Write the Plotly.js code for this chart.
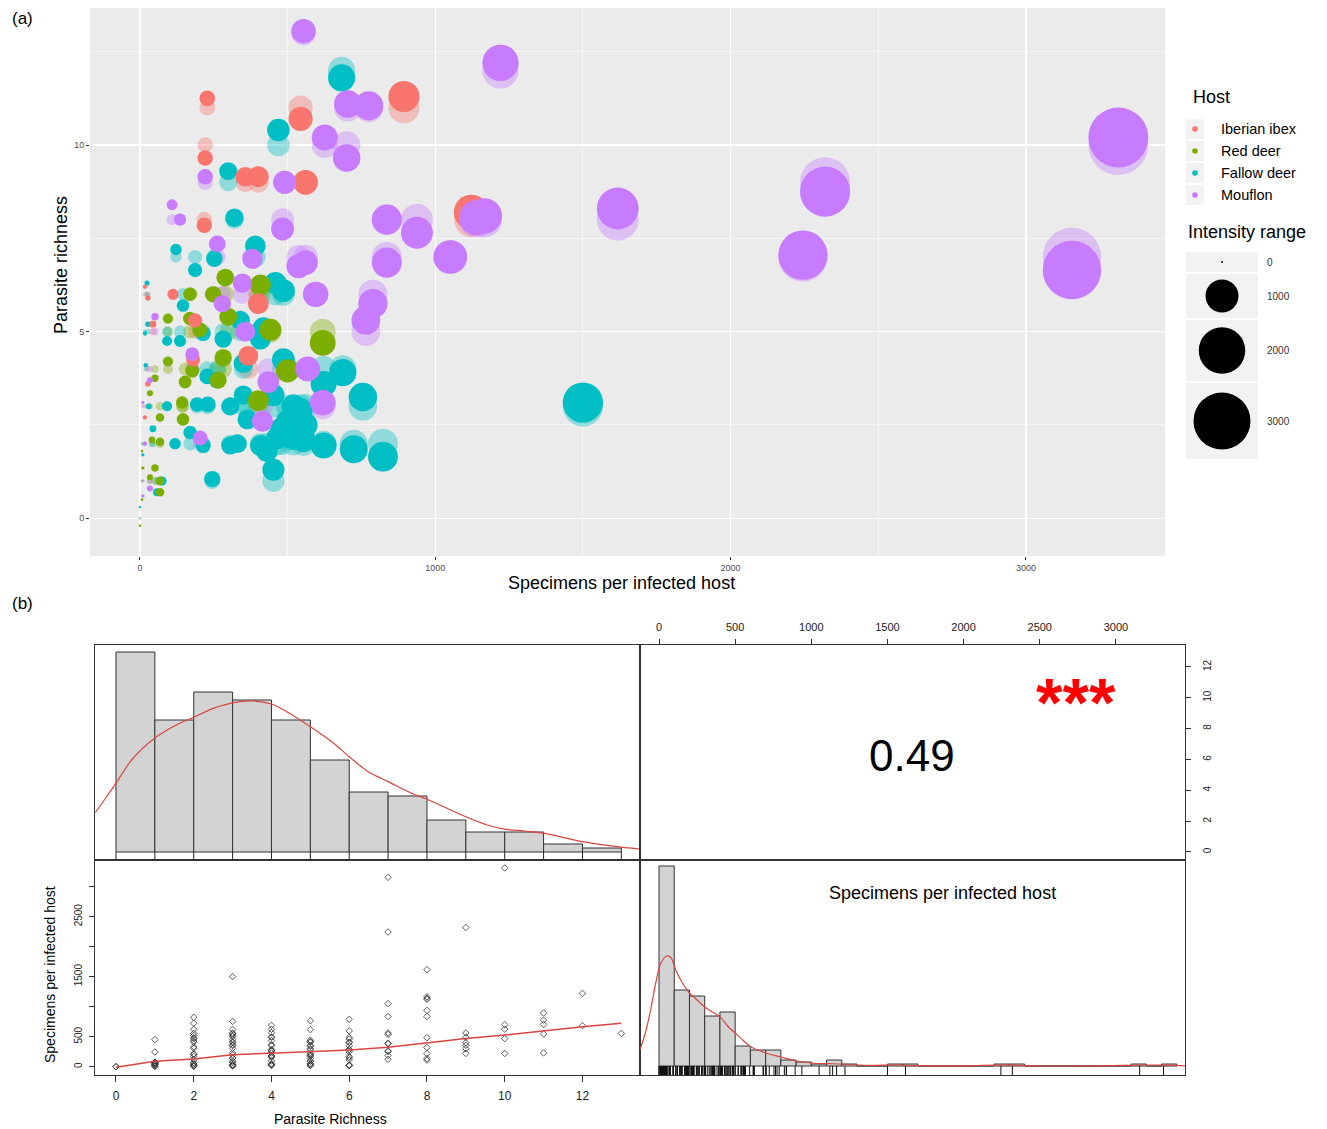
<!DOCTYPE html>
<html><head><meta charset="utf-8">
<script src="https://cdn.plot.ly/plotly-3.0.1.min.js"></script>
<style>html,body{margin:0;padding:0;background:#fff}#chart{width:1327px;height:1129px}</style>
</head><body><div id="chart"></div>
<script>
const W = 1327, H = 1129;

// ---------- Panel (a) data: specimens per infected host, parasite richness, plotted (jittered) richness ----------
const hostNames = ['Iberian ibex', 'Red deer', 'Fallow deer', 'Mouflon'];
const hostColors = ['#F8766D', '#7CAE00', '#00BFC4', '#C77CFF'];

const ibexSpecimens = [894,544,228,221,561,357,401,1122,218,112,401,367,180,27,17,27,17,187,44];
const ibexRichness  = [11,11,11,10,9,9,9,8,8,6,6,4,4,4,3,6,6,5,5];
const ibexJitter    = [11.3,10.7,11.25,9.65,9.0,9.15,9.15,8.2,7.85,6.0,5.75,4.35,4.25,3.6,2.7,5.9,6.2,5.3,5.2];

const redSpecimens = [619,289,408,248,170,299,95,442,282,95,177,265,153,51,401,143,146,34,68,41,68,51,10,34,68,7,7,500,203,169,68,0];
const redRichness  = [5,6,6,6,6,5,5,5,4,4,4,4,4,4,3,3,3,3,3,2,2,1,1,1,1,1,2,4,5,5,1,0];
const redJitter    = [4.7,6.45,6.25,6.0,6.0,5.4,5.35,5.05,4.3,4.2,3.95,3.7,3.65,3.75,3.15,3.1,2.65,3.35,2.7,2.1,2.05,1.35,1.35,1.1,0.7,0.5,1.8,3.95,5.05,5.35,1.0,-0.2];

const fallowSpecimens = [683,469,299,320,122,187,252,391,459,146,92,136,282,408,214,340,418,486,350,228,486,622,687,755,194,306,350,452,500,364,544,466,520,306,408,622,724,823,452,245,119,214,75,58,170,92,44,10,0,1500,554,24,17,27,30,20,520,480,430,560,230,330,262];
const fallowRichness  = [12,10,9,8,7,7,7,7,6,6,5,5,5,5,5,5,5,6,4,4,4,4,4,3,3,3,3,3,3,3,3,2,2,2,2,2,2,2,1,1,2,2,1,1,2,3,2,2,0,3,2,6,5,5,3,4,3,2,2,3,3,2,4];
const fallowJitter    = [11.8,10.4,9.3,8.05,7.2,6.65,6.95,7.3,6.3,5.7,4.75,4.75,4.8,4.8,4.95,5.3,5.1,6.1,4.15,3.8,4.25,3.6,3.9,3.25,3.05,3.0,3.3,3.3,2.6,2.65,2.9,2.15,2.15,1.95,1.95,1.95,1.85,1.65,1.3,1.05,2.0,1.95,1.0,0.7,2.3,3.0,2.4,1.7,0.3,3.1,2.1,6.3,4.95,5.2,3.0,4.1,3.0,2.4,1.8,2.5,3.05,2.0,3.7];

const mouflonSpecimens = [554,1221,3313,2320,1618,2245,3156,1166,1140,1051,938,836,836,789,765,595,775,704,626,700,490,221,109,136,483,537,561,262,381,347,279,51,357,435,415,568,619,34,177,204,34,10,17,10];
const mouflonRichness  = [13,12,10,9,8,7,7,8,8,7,8,8,7,6,5,6,11,11,10,10,9,9,8,8,8,7,7,7,7,6,6,5,5,4,3,4,3,4,4,2,1,3,2,1];
const mouflonJitter    = [13.05,12.2,10.2,8.75,8.3,7.05,6.65,8.1,8.05,7.0,7.65,8.0,6.85,5.75,5.3,6.0,11.05,11.1,10.2,9.65,9.0,9.15,8.4,8.0,7.75,6.75,6.85,7.35,6.95,6.3,5.75,5.4,5.0,3.65,2.6,4.0,3.1,3.7,4.4,2.15,0.8,3.1,2.0,0.6];

const intensityLegendValues = [0, 1000, 2000, 3000];

// ---------- Panel (b) data ----------
const richHistBreaks = [0,1,2,3,4,5,6,7,8,9,10,11,12,13];
const richHistCounts = [50,33,40,38,33,23,15,14,8,5,5,2,1];
const richDensX = [-0.53,-0.3,0,0.4,1,1.55,2,2.5,3,3.5,4,4.45,5,5.6,6,6.5,7,7.6,8,8.5,9,9.55,10,10.5,11,12,13,13.5];
const richDensY = [9.9,13,17.2,23,28.5,31.75,33.7,35.9,37.3,37.75,37,34.75,31.3,27.2,23.8,20,17.6,14.7,13.2,11,8.8,6.75,5.7,5.25,4.7,2.6,1.2,0.7];

const specHistBreaks = [0,100,200,300,400,500,600,700,800,900,1000,1100,1200,1300,1400,1500,1600,1700,1800,1900,2000,2100,2200,2300,2400,2500,2600,2700,2800,2900,3000,3100,3200,3300,3400];
const specHistCounts = [100,38,35,25,27,10,8,8,3,2,1,3,1,0,0,1,1,0,0,0,0,0,1,1,0,0,0,0,0,0,0,1,0,1];
const specDensX = [-125,-90,-55,-20,10,50,80,110,150,200,250,300,350,400,450,500,550,600,700,800,900,1000,1100,1200,1300,1400,1560,1700,2000,2280,2450,2900,3230,3330,3454];
const specDensY = [8,16.5,28,42,51,55,54,48,42,36.5,33,29.5,27,24.7,20,16.5,13,9.7,6.5,4.5,2.5,1.5,1.2,1,0.5,0.3,0.5,0.2,0.1,0.6,0.1,0.1,0.5,0.4,0.1];

const loessX = [0,1,2,3,4,5,6,7,8,9,10,11,12,13];
const loessY = [-8,90,128,200,225,250,278,322,400,470,528,600,667,722];

const corrText = '0.49';
const starsText = '***';

// ---------- helpers ----------
const FONT = 'Liberation Sans, Arial, Helvetica, sans-serif';
const px = v => v / W;
const py = v => 1 - v / H;
const bubble = v => Math.max(2.5, 1.04 * Math.sqrt(v));

const hosts = [
  {spec: ibexSpecimens, rich: ibexRichness, jit: ibexJitter},
  {spec: redSpecimens, rich: redRichness, jit: redJitter},
  {spec: fallowSpecimens, rich: fallowRichness, jit: fallowJitter},
  {spec: mouflonSpecimens, rich: mouflonRichness, jit: mouflonJitter}
];

const traces = [];
// faded layer at recorded richness
hosts.forEach((h, i) => traces.push({
  type: 'scatter', mode: 'markers', x: h.spec, y: h.rich, xaxis: 'x', yaxis: 'y',
  name: hostNames[i], hoverinfo: 'skip',
  marker: {color: hostColors[i], opacity: 0.38, size: h.spec.map(bubble), line: {width: 0}}
}));
// jittered solid layer
[2, 1, 0, 3].forEach(i => {
  const h = hosts[i];
  traces.push({
    type: 'scatter', mode: 'markers', x: h.spec, y: h.jit, xaxis: 'x', yaxis: 'y',
    name: hostNames[i], hoverinfo: 'skip',
    marker: {color: hostColors[i], opacity: 1, size: h.spec.map(bubble), line: {width: 0}}
  });
});

// all observations for panel (b)
const allRich = [], allSpec = [];
hosts.forEach(h => { h.rich.forEach((r, k) => { allRich.push(r); allSpec.push(h.spec[k]); }); });

// TL histogram
const richCenters = richHistCounts.map((c, k) => (richHistBreaks[k] + richHistBreaks[k + 1]) / 2);
const richWidths = richHistCounts.map((c, k) => richHistBreaks[k + 1] - richHistBreaks[k]);
traces.push({type: 'bar', x: richCenters, y: richHistCounts, width: richWidths, xaxis: 'x2', yaxis: 'y2',
  marker: {color: '#D3D3D3', line: {color: '#333', width: 1}}, hoverinfo: 'skip'});
traces.push({type: 'scatter', mode: 'lines', x: richDensX, y: richDensY, xaxis: 'x2', yaxis: 'y2',
  line: {color: '#D9453F', width: 1.2, shape: 'spline', smoothing: 0.8}, hoverinfo: 'skip'});
// TL rug
const uRich = [...new Set(allRich)];
const rugRX = [], rugRY = [];
uRich.forEach(v => { rugRX.push(v, v, null); rugRY.push(-2, 0, null); });
traces.push({type: 'scatter', mode: 'lines', x: rugRX, y: rugRY, xaxis: 'x2', yaxis: 'y2',
  line: {color: '#222', width: 1}, hoverinfo: 'skip'});

// TR placeholder (axes only)
traces.push({type: 'scatter', mode: 'markers', x: [0], y: [0], xaxis: 'x3', yaxis: 'y3',
  marker: {opacity: 0}, hoverinfo: 'skip'});

// BL scatter + loess
traces.push({type: 'scatter', mode: 'markers', x: allRich, y: allSpec, xaxis: 'x4', yaxis: 'y4',
  marker: {symbol: 'diamond-open', size: 5, color: '#333', line: {width: 0.8}}, hoverinfo: 'skip'});
traces.push({type: 'scatter', mode: 'lines', x: loessX, y: loessY, xaxis: 'x4', yaxis: 'y4',
  line: {color: '#D9453F', width: 1.5}, hoverinfo: 'skip'});

// BR histogram
const specCenters = specHistCounts.map((c, k) => (specHistBreaks[k] + specHistBreaks[k + 1]) / 2);
const specWidths = specHistCounts.map((c, k) => specHistBreaks[k + 1] - specHistBreaks[k]);
traces.push({type: 'bar', x: specCenters, y: specHistCounts, width: specWidths, xaxis: 'x5', yaxis: 'y5',
  marker: {color: '#D3D3D3', line: {color: '#333', width: 1}}, hoverinfo: 'skip'});
traces.push({type: 'scatter', mode: 'lines', x: specDensX, y: specDensY, xaxis: 'x5', yaxis: 'y5',
  line: {color: '#D9453F', width: 1.2, shape: 'spline', smoothing: 0.8}, hoverinfo: 'skip'});
const rugSX = [], rugSY = [];
allSpec.forEach(v => { rugSX.push(v, v, null); rugSY.push(-4.5, 0, null); });
traces.push({type: 'scatter', mode: 'lines', x: rugSX, y: rugSY, xaxis: 'x5', yaxis: 'y5',
  line: {color: '#111', width: 1}, hoverinfo: 'skip'});

// ---------- layout ----------
const box = {showline: true, mirror: true, linecolor: '#333', linewidth: 1, showgrid: false, zeroline: false, fixedrange: true};
const gridA = {showgrid: true, gridcolor: '#FFFFFF', gridwidth: 1.2, zeroline: false, showline: false,
  ticks: 'outside', ticklen: 3, tickcolor: '#333', tickwidth: 1, tickfont: {size: 9, color: '#4D4D4D'}, fixedrange: true};

const layout = {
  width: W, height: H, margin: {l: 0, r: 0, t: 0, b: 0}, autosize: false,
  paper_bgcolor: '#FFFFFF', plot_bgcolor: 'rgba(0,0,0,0)', showlegend: false,
  font: {family: FONT, color: '#000'},
  xaxis: Object.assign({}, gridA, {domain: [px(90), px(1165)], range: [-169, 3471], anchor: 'y',
    tickvals: [0, 1000, 2000, 3000], minor: {tickvals: [500, 1500, 2500], showgrid: true, gridcolor: '#FFFFFF', gridwidth: 0.6, ticks: ''}}),
  yaxis: Object.assign({}, gridA, {domain: [py(556), py(8)], range: [-1.01, 13.67], anchor: 'x',
    tickvals: [0, 5, 10], minor: {tickvals: [2.5, 7.5, 12.5], showgrid: true, gridcolor: '#FFFFFF', gridwidth: 0.6, ticks: ''}}),

  xaxis2: Object.assign({}, box, {domain: [px(95), px(640)], range: [-0.54, 13.48], anchor: 'y2', showticklabels: false, ticks: ''}),
  yaxis2: Object.assign({}, box, {domain: [py(860), py(645)], range: [-2, 51.75], anchor: 'x2', showticklabels: false, ticks: ''}),

  xaxis3: Object.assign({}, box, {domain: [px(640), px(1185)], range: [-124.8, 3453.7], anchor: 'y3', side: 'top',
    tickvals: [0, 500, 1000, 1500, 2000, 2500, 3000], ticks: 'outside', ticklen: 5, tickcolor: '#333',
    tickfont: {size: 11, color: '#222'}, ticklabelstandoff: 4}),
  yaxis3: Object.assign({}, box, {domain: [py(860), py(645)], range: [-0.52, 13.42], anchor: 'x3', side: 'right',
    tickvals: [0, 2, 4, 6, 8, 10, 12], ticks: 'outside', ticklen: 5, tickcolor: '#333', tickangle: -90,
    tickfont: {size: 10, color: '#222'}, ticklabelstandoff: 8}),

  xaxis4: Object.assign({}, box, {domain: [px(95), px(640)], range: [-0.54, 13.48], anchor: 'y4',
    tickvals: [0, 2, 4, 6, 8, 10, 12], ticks: 'outside', ticklen: 6, tickcolor: '#333',
    tickfont: {size: 12, color: '#222'}, ticklabelstandoff: 4}),
  yaxis4: Object.assign({}, box, {domain: [py(1075), py(860)], range: [-139, 3445], anchor: 'x4',
    tickvals: [0, 500, 1000, 1500, 2000, 2500, 3000], ticktext: ['0', '500', '', '1500', '', '2500', ''],
    ticks: 'outside', ticklen: 5, tickcolor: '#333', tickangle: -90, tickfont: {size: 10, color: '#222'}, ticklabelstandoff: 3}),

  xaxis5: Object.assign({}, box, {domain: [px(640), px(1185)], range: [-124.8, 3453.7], anchor: 'y5', showticklabels: false, ticks: ''}),
  yaxis5: Object.assign({}, box, {domain: [py(1075), py(860)], range: [-4.5, 103], anchor: 'x5', showticklabels: false, ticks: ''}),

  shapes: [], annotations: []
};

// panel (a) background
layout.shapes.push({type: 'rect', xref: 'paper', yref: 'paper', x0: px(90), x1: px(1165), y0: py(556), y1: py(8),
  fillcolor: '#EBEBEB', line: {width: 0}, layer: 'below'});

function ann(text, x, y, size, opts) {
  layout.annotations.push(Object.assign({text: text, x: px(x), y: py(y), xref: 'paper', yref: 'paper',
    showarrow: false, font: {size: size, family: FONT, color: '#000'}, xanchor: 'center', yanchor: 'middle'}, opts || {}));
}

ann('(a)', 22, 18, 17);
ann('(b)', 22, 603, 17);
ann('Specimens per infected host', 621, 583, 18);
ann('Parasite richness', 61, 265, 18, {textangle: -90});

// Host legend
ann('Host', 1191, 97, 18, {xanchor: 'left'});
const hostRowY = [129, 151, 173, 195];
hostNames.forEach((n, i) => {
  const yc = hostRowY[i];
  layout.shapes.push({type: 'rect', xref: 'paper', yref: 'paper', x0: px(1186), x1: px(1204), y0: py(yc + 10), y1: py(yc - 10),
    fillcolor: '#F2F2F2', line: {width: 0}});
  layout.shapes.push({type: 'circle', xref: 'paper', yref: 'paper', x0: px(1195 - 2.8), x1: px(1195 + 2.8), y0: py(yc + 2.8), y1: py(yc - 2.8),
    fillcolor: hostColors[i], line: {width: 0}});
  ann(n, 1219, yc, 14.5, {xanchor: 'left'});
});

// Size legend
ann('Intensity range', 1186, 232, 18, {xanchor: 'left'});
const sizeRows = [[252, 272], [274, 318], [320, 381], [383, 459]];
intensityLegendValues.forEach((v, i) => {
  const r = sizeRows[i], yc = (r[0] + r[1]) / 2, d = v === 0 ? 2 : bubble(v);
  layout.shapes.push({type: 'rect', xref: 'paper', yref: 'paper', x0: px(1186), x1: px(1258), y0: py(r[1]), y1: py(r[0]),
    fillcolor: '#F2F2F2', line: {width: 0}});
  layout.shapes.push({type: 'circle', xref: 'paper', yref: 'paper', x0: px(1222 - d / 2), x1: px(1222 + d / 2), y0: py(yc + d / 2), y1: py(yc - d / 2),
    fillcolor: '#000', line: {width: 0}});
  ann(String(v), 1265, yc, 10, {xanchor: 'left', font: {size: 10, family: FONT, color: '#333'}});
});

// Panel (b) texts
ann(corrText, 912, 755, 44);
ann('<b>' + starsText + '</b>', 1076, 702, 68, {font: {size: 68, family: FONT, color: '#FF0000'}});
ann('Specimens per infected host', 942, 893, 18);
ann('Specimens per infected host', 50, 975, 14, {textangle: -90});
ann('Parasite Richness', 330, 1119, 14);

Plotly.newPlot('chart', traces, layout, {displayModeBar: false, staticPlot: true});
</script>
</body></html>
